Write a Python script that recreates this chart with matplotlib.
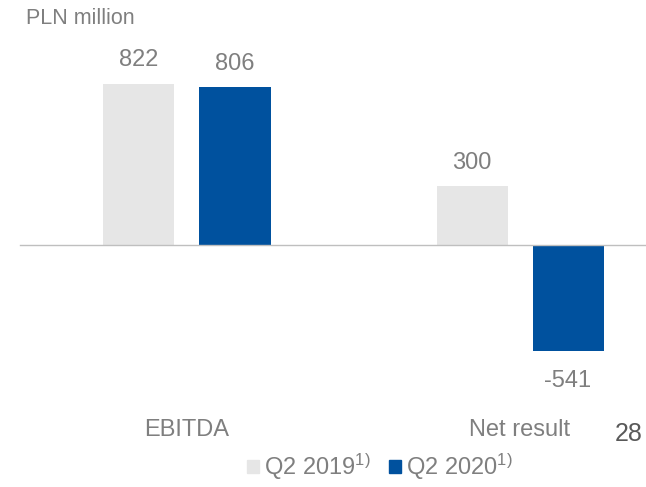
import matplotlib
matplotlib.use("Agg")
from matplotlib import pyplot as plt
from matplotlib.patches import Patch

categories = ["EBITDA", "Net result"]
q2_2019 = [822, 300]
q2_2020 = [806, -541]
series_labels = ["Q2 2019", "Q2 2020"]

plt.rcParams["font.family"] = ["Liberation Sans", "DejaVu Sans"]
plt.rcParams["mathtext.fontset"] = "custom"
plt.rcParams["mathtext.rm"] = "Liberation Sans"
plt.rcParams["mathtext.it"] = "Liberation Sans"

grey_bar = "#e6e6e6"
blue_bar = "#00519e"
text_col = "#7f7f7f"

fig = plt.figure(figsize=(6.46, 4.87), dpi=100)
ax = fig.add_axes([0, 0, 1, 1])

# pixel scale from the reference: 822 -> 161 px, zero line at y=245
scale = 161 / 822
ax.set_ylim(-(487 - 245) / scale, 245 / scale)
ax.set_xlim((0 - 187) / 333, (646 - 187) / 333)

width = 71 / 333
offset = 48 / 333
x = [0, 1]
b1 = ax.bar([i - offset for i in x], q2_2019, width, color=grey_bar)
b2 = ax.bar([i + offset for i in x], q2_2020, width, color=blue_bar)

for bars, vals in [(b1, q2_2019), (b2, q2_2020)]:
    for rect, v in zip(bars, vals):
        cx = rect.get_x() + rect.get_width() / 2
        dy = 9 if v >= 0 else -14
        ax.annotate(str(v), (cx, v), xytext=(0, dy), textcoords="offset points",
                    ha="center", va="bottom" if v >= 0 else "top",
                    fontsize=17, color=text_col)

ax.plot([(20 - 187) / 333, (646 - 187) / 333], [0, 0], color="#bfbfbf", lw=1)

for i, c in zip(x, categories):
    ax.text(i, -(430 - 245) / scale, c, ha="center", va="center", fontsize=17, color=text_col)

for s in ax.spines.values():
    s.set_visible(False)
ax.set_xticks([])
ax.set_yticks([])

fig.text(26 / 646, 1 - 19 / 487, "PLN million", ha="left", va="center", fontsize=15.5, color=text_col)
fig.text(629 / 646, 1 - 434 / 487, "28", ha="center", va="center", fontsize=18, color="#595959")

handles = [Patch(color=grey_bar), Patch(color=blue_bar)]
labels = [s + r"$^{\mathregular{1)}}$" for s in series_labels]
leg = fig.legend(handles, labels, loc="center", bbox_to_anchor=(380 / 646, 1 - 467 / 487),
                 ncol=2, frameon=False, fontsize=17, handlelength=0.5, handleheight=0.5,
                 handletextpad=0.2, columnspacing=0.8, labelcolor=text_col)

fig.savefig("out.png", dpi=100)
